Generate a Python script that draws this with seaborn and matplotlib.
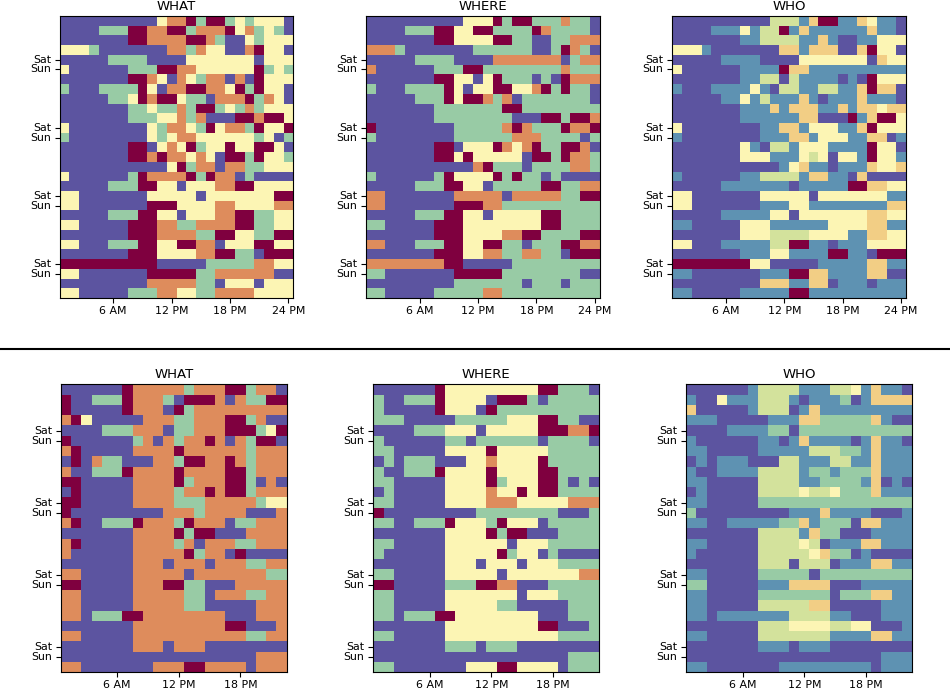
import matplotlib
matplotlib.use("Agg")
import matplotlib.pyplot as plt
import numpy as np
import seaborn as sns
from matplotlib.colors import ListedColormap
from matplotlib.lines import Line2D

sns.set_style("ticks")

# One letter per hour: P purple, B blue, G green, L lime, Y cream, A amber, O orange, M maroon
LEVELS = "PBGLYAOM"
COLORS = ["#5c54a0", "#5e92b2", "#98cba5", "#d3e29c", "#fcf5b4", "#f2ce85", "#de8c5c", "#7f003f"]

top_what = [
    "PPPPPPPPPP Y OO M G MM G Y G YYY P",
    "PPPP GGG MM OO MM G OOO M Y O G Y G P",
    "PPPPPPP MM OOOO MM O G PP Y G YYY",
    "YYY G PPPPPPP OO G O YY PP O M YY P",
    "PPPPP GGGG PPPP YYYYYYY P YYY",
    "Y PPPPPP GGG MM OO YYYYYY M G Y G",
    "PPPPPPP MM O Y P O Y G OO P O P M YYY",
    "G PPP GGGG M Y P OO MM OO Y M G M YY P",
    "PPPPP GG Y M O MM Y GG P OOO M G O Y P",
    "PPPPPPP GG Y GG O G MM G Y G O G YYY",
    "PPPPPPP GGG YY O G O PPP MM O MM Y",
    "Y PPPPPPPP Y G OO Y G M Y OO G M YY M",
    "G PPPPPPPP Y G Y OO YYYYYY G Y P G",
    "PPPPPPP MM P Y O Y M G YY M YY MM Y P",
    "PPPPPPP MM O M OO Y O Y P MM G M YY G",
    "PPPPPPPPPPP Y M G OO P OO GG YYY",
    "Y PPPPPP G M OOOO M G M OO P G PPPP",
    "PPPPP GGG MM YY P YYY OO MM YYYY",
    "YY PPPPPPP YYYYY P YYYYYYY MM",
    "YY PPPPPPP MMM YYYY OO YYYY OO",
    "PPPPP GGG MM YY P YYY OO MM GG YY",
    "YY PPPPP MMM OO GG OOOO MM GG YY",
    "PPPPPPP MMM OOOO GG MM YY GG MM",
    "YY PPP GGG MM YY MM OO P YYY MM YY",
    "PPPPPPP MMM YYYY OO MM GG P MMM",
    "MMMMMMMMMM PPPPP GGGGG OO YY",
    "YY PPPPPPP MMMMM GG OOOOOO PP",
    "PPPPPPPPP OOOOO GG P YYY P YYY",
    "YY PPPPP GGG OO YY GG OOOO YYYY",
]
top_where = [
    "PPPPPPPPPP YYY M G MM GGG O GG P",
    "PPPP GGG MM YY MM GGGG M O GGGG P",
    "PPPPPPP MM YYYY MM GG PP GG OOO",
    "OOO G PPPPPPP GGGGGG PP G M O G P",
    "PPPPP GGGG PPPP OOOOOOO P G OO",
    "O PPPPPP GGG MM GGGGGGGG O GGG",
    "PPPPPPP MM YY P Y M GGG P G P M OOO",
    "G PPP GGGG M Y P YY MM YY O M G M GG P",
    "PPPPP GGG M Y MM O G O P GGGGGGG P",
    "PPPPPPP GGGGGGG MM GGGGGGGG",
    "PPPPPPP GGGGGGGG PPP MM G MM O",
    "M PPPPPPPP GGGGG O M O GGG M OO M",
    "G PPPPPPPP GGGGGG OOO GGGG P G",
    "PPPPPPP MM P YYY M O Y O M GG MM O P",
    "PPPPPPP MM Y M YYYYY P MM G M OO G",
    "PPPPPPPPPPP O M GGG P GGGG OO G",
    "G PPPPPP G M YYYY M G M GG P G PPPP",
    "PPPPP GGG MM YY P GGGGG MM GG OO",
    "OO PPPPPPP OOOOO P OOOOO GG MM",
    "OO PPPPPPP MMM OO GGGGGGGGGG",
    "PPPPP GGG MM YY P YYYYY MM GGGG",
    "GG PPPPP MMM YYYYYYYY MM GGGG",
    "PPPPPPP MMM YYYY OO MM GGGG MM",
    "OO PPP GGG MM YY MM GG P GGG MM OO",
    "PPPPPPP MMM YY OO GG OO GG P MMM",
    "OOOOOOOO MM PPPPP GGGGGGGGG",
    "GG PPPPPPP MMMMM GGGGGGGG PP",
    "PPPPPPPPP GGGGGGG P GGG P GGG",
    "GG PPPPP GGGGG OO GGGGGGGGGG",
]
top_who = [
    "PPPPPPPPPP LLL B A MM BB A Y BB P",
    "PPPP BBB Y B LL M B A BBBBBB A BB P",
    "PPPPPPP BB LLLL BB A B PP BB YYY",
    "YYY B PPPPPPP AA B AAA PP A M YY P",
    "PPPPP BBBB PPPP YYYYYYY P A YY",
    "Y PPPPPP BBBB M AA BBBBBBBBBB",
    "PPPPPPP BB LL P L BBBB P B P M YYY",
    "B PPP BBBB Y B P LL BB LL BB A M AA P",
    "PPPPP BB Y B L BBB A B P BBB A BBB P",
    "PPPPPPP BBB A B AAA BB A B AA Y AA",
    "PPPPPPP BBBBBB AA PPP M B A MM Y",
    "Y PPPPPPPP BB AA B YYY BB A M YYY",
    "B PPPPPPPP BBB AA B YYY BB AA P B",
    "PPPPPPP Y B P LL B YYY BBBB M YY P",
    "PPPPPPP YYY BBB Y L Y P YY B M YY B",
    "PPPPPPPPPPP B Y A BB P BBB A YY A",
    "B PPPPPP BB LLLL B AA BB P A PPPP",
    "PPPPP BBBBBBB P BBBBB MM AA YY",
    "YY PPPPPPP YYYYY P YYYYYYY BB",
    "YY PPPPPPP BBB YY BBBBBBBB AA",
    "PPPPP BBBBB YY P YYYYYYY AA YY",
    "BB PPPPP YYY BBBBBB YYYY AA BB",
    "PPPPPPP YYY LLLL YYYY BB AA YY",
    "YY PPP BBBBB LL MM BB P BBB YYYY",
    "PPPPPPP BBB YY BBBB MM BB P MMM",
    "MMMMMMMM YY PPPPP BBBBB AA BB",
    "BB PPPPPPP BBB MM AA BBBB AA PP",
    "PPPPPPPPP AAA BB AA P BBB P BBB",
    "BB PPPPP BBBBB MM BBBBBBBBBB",
]
bottom_what = [
    "PPPPPP M OOOOO G OOO MM G OO P",
    "M PP GGG M OOO G P MMM O P O GG MM",
    "M PPPPP M OOO P M G OOOOOOOOO",
    "O M Y PPPPP OOO GG OOO MM G O PP",
    "PPPP GGG OOO P GG OOO MMM G Y M",
    "M PPPPPP G O P O G OO M O P O G MM P",
    "O M PPPPP OOOO M OOOOOO G OOO",
    "P M P O GG PPP OO G MM OO M O G OOO",
    "O PP GGG M OOOO M OOOO MM G OOO",
    "MM PPPPP OOOO M G OOO MM G P O P",
    "P M PPPPP OOOO G OO M O MM G OOO",
    "MM PPPPP OOOO GGG OOOOO G YY",
    "M PPPPPPPPP OOO G OOOO PPP O",
    "O M PP GGG M OOO G M OOO P GG OOO",
    "PPPPPPP OOOO M G MM PPP OOOO",
    "O M PPPPP OOOO G O P OOO GG OOO",
    "O PPPPPP OOOOO M G OO P M PPPP",
    "PPPPPPP OOO P OOO P OOO GG OO",
    "OO PPPPP OOOOO P OOOOOOO GG",
    "MM PPPPP OOO MM GG PPP OOOOO",
    "OO PPPPP OOOOO GG P OOO GG OO",
    "OO PPPPP OOOOO GG PPPPP OOO",
    "OO P GGG MM OOOOOOOO PPP OOO",
    "PPPPPPP OOOOOOOOO MM PPP O",
    "OO PPPPP OOOOOOOOOOO GG OO",
    "PPPPPPP OOO P OOO PPPPPPPP",
    "PPPPPPPPPPPPPPPPPPP OOO",
    "OO PPPPPPP OOO MM OOOO P OOO",
]
bottom_where = [
    "PPPPPP M YYYYYYYYY MM GGG P",
    "G PP GGG M YYYY P MMM G P GGGGG",
    "G PPPPP M YYY P M GGGGGGGGGG",
    "GGG PPPPP GGGGG YYY MM GG PP",
    "PPPP GGG YYY P YYYYY MMM OO M",
    "G PPPPPP GG P GGGGGG P GGGG P",
    "GG PPPPP YYYY M YYYYY GGGGG",
    "P G P GGG PPP YY O YYYY M GGGGG",
    "G PP GGG M YYYY M YYYY MM GGGG",
    "GG PPPPP YYYY M G YYY MM G P G P",
    "P G PPPPP YYYY O YY M Y MM GGGG",
    "GG PPPPP YYYY OOO YYYYY OOO",
    "M PPPPPPPPP GGGGGGGG PPP G",
    "GG PP GGG M YYY G M YYY P GGGGG",
    "PPPPPPP YYYY M G MM PPP GGGG",
    "GG PPPPP YYYYYY P YYY GGGGG",
    "G PPPPPP YYYYY M G YY P G PPPP",
    "PPPPPPP YYY P YYY P YYY GGGG",
    "GG PPPPP YYYYY P YYYYYYY OO",
    "MM PPPPP GGG MM OO PPP GGGGG",
    "GG PPPPP YYYYYYY P YYY GGGG",
    "GG PPPPP YYYYY GG PPPPP GGG",
    "GG P GGG MM YYYYYYYY PPP GGG",
    "PPPPPPP YYYYYYYYY MM PPP G",
    "GG PPPPP YYYYYYYYYYY GGGG",
    "PPPPPPP GGG P GGG PPPPPPPP",
    "PPPPPPPPPPPPPPPPPPP GGG",
    "GG PPPPPPP YYY MM YYYY P GGG",
]
bottom_who = [
    "PPPPPP B LLLL BBB LL Y B A BB P",
    "B PP Y BBB LLL B P BBB G P B AAAA",
    "A PPPPP B LLL P B A BBBBBBBBB",
    "BBB PPPPP BBB AA GGGGG A B PP",
    "PPPP BBBB GG P GGGGGGGGGGG",
    "B PPPPPP BB P B A BBBB P B A BB P",
    "BB PPPPP BBBBB LLL GG B A BBB",
    "P B P BBB PPP LL BBB LL BB A BBB",
    "B PP BBBB LLLL B GG B GGG A BBB",
    "BB PPPPP LLLL BB GGGG B A P B P",
    "P B PPPPP LLLL Y LL Y GGG A BBB",
    "BB PPPPP GGGGGGGGGGGGGGG",
    "G PPPPPPPPP BBB A BBBB PPP B",
    "BB PP BBBBB GG A B GGG P AA BBB",
    "PPPPPPP LLLL B A GG PPP BBBB",
    "BB PPPPP LLLL Y L P BBB AA BBB",
    "B PPPPPP LLLLL Y A GG P B PPPP",
    "PPPPPPP LLL P LLL P BBB AA BB",
    "BB PPPPP GGGGG P GGGGGGGGG",
    "GG PPPPP BBB AAAA PPP BBBBB",
    "BB PPPPP GGGGGGG P GGG AA BB",
    "BB PPPPP LLLLL AA PPPPP BBB",
    "BB P BBBBBBB LLLL BB PPP BBB",
    "PPPPPPP LLL YYYY LL YY PPP B",
    "BB PPPPP LLLLLLL BBBB AA BB",
    "PPPPPPP BBB P BBB PPPPPPPP",
    "PPPPPPPPPPPPPPPPPPP BBB",
    "BB PPPPPPP BBBBBBBBB P BBB",
]

titles = ["WHAT", "WHERE", "WHO"]
top_hours = ["6 AM", "12 PM", "18 PM", "24 PM"]
bottom_hours = ["6 AM", "12 PM", "18 PM"]
weekend_labels = ["Sat", "Sun"] * 4

W, H = 950, 689
fig = plt.figure(figsize=(W / 100, H / 100), dpi=100)
cmap = ListedColormap(COLORS)


def to_matrix(rows, ncols):
    out = []
    for i, r in enumerate(rows):
        s = r.replace(" ", "")
        if len(s) != ncols:
            print("bad row", i, len(s), r)
        s = (s + s[-1] * ncols)[:ncols]
        out.append([LEVELS.index(c) for c in s])
    return np.array(out)


def panel(rows, box, title, hours, ncols):
    x0, x1, y0, y1 = box
    ax = fig.add_axes([x0 / W, 1 - y1 / H, (x1 - x0) / W, (y1 - y0) / H])
    sns.heatmap(to_matrix(rows, ncols), cmap=cmap, vmin=-0.5, vmax=7.5, cbar=False,
                ax=ax, square=False, linewidths=0, rasterized=True)
    ax.set_xticks([5.5 + 6 * i for i in range(len(hours))])
    ax.set_xticklabels(hours, rotation=0)
    ax.set_yticks([4.5, 5.5, 11.5, 12.5, 18.5, 19.5, 25.5, 26.5])
    ax.set_yticklabels(weekend_labels, rotation=0)
    ax.tick_params(axis="both", labelsize=7.9, length=3.5, width=0.8, pad=2.4, color="black", labelcolor="black")
    ax.tick_params(axis="y", pad=2.8)
    for s in ax.spines.values():
        s.set_visible(True)
        s.set_linewidth(0.8)
        s.set_color("black")
    ax.set_title(title, fontsize=9.5, pad=4.6, color="black")
    return ax


top_boxes = [(59.7, 293.3, 16, 298), (366, 599.7, 16, 298), (672.3, 906, 16, 298)]
bottom_boxes = [(60.7, 286.7, 384.3, 672.3), (373.3, 599.3, 384.3, 672.3), (686, 912.3, 384.3, 672.3)]
for rows, box, t in zip([top_what, top_where, top_who], top_boxes, titles):
    panel(rows, box, t, top_hours, 24)
for rows, box, t in zip([bottom_what, bottom_where, bottom_who], bottom_boxes, titles):
    panel(rows, box, t, bottom_hours, 22)

fig.add_artist(Line2D([0, 1], [1 - 349 / H, 1 - 349 / H], color="black", linewidth=1.5, transform=fig.transFigure))
fig.savefig("out.png", dpi=100)
